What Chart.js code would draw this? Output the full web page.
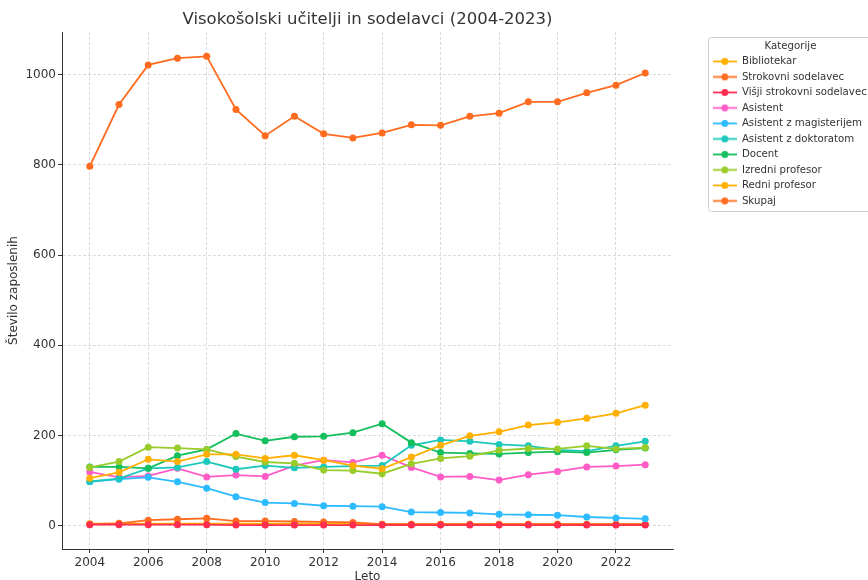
<!DOCTYPE html>
<html>
<head>
<meta charset="utf-8">
<title>Visokošolski učitelji in sodelavci</title>
<script src="https://cdn.jsdelivr.net/npm/chart.js@4"></script>
<style>
  body { margin: 0; background: #fff; }
</style>
</head>
<body>
<canvas id="chart" width="868" height="580"></canvas>
<script>
// leta in oznake osi
const years = [2004, 2005, 2006, 2007, 2008, 2009, 2010, 2011, 2012, 2013,
               2014, 2015, 2016, 2017, 2018, 2019, 2020, 2021, 2022, 2023];
const xTicks = [2004, 2006, 2008, 2010, 2012, 2014, 2016, 2018, 2020, 2022];
const yTicks = [0, 200, 400, 600, 800, 1000];

const categories = ['Bibliotekar', 'Strokovni sodelavec', 'Višji strokovni sodelavec', 'Asistent',
  'Asistent z magisterijem', 'Asistent z doktoratom', 'Docent', 'Izredni profesor', 'Redni profesor', 'Skupaj'];

// vrednosti odčitane s slike
const bibliotekar = [4, 4, 4, 4, 4, 4, 4, 4, 4, 4, 3, 3, 3, 3, 3, 3, 3, 3, 3, 3];
const strokovni   = [3, 5, 12, 14, 16, 10, 10, 9, 8, 7, 3, 3, 3, 3, 3, 3, 3, 3, 3, 3];
const visjiStrok  = [2, 2, 2, 2, 2, 1, 1, 1, 1, 1, 1, 1, 1, 1, 1, 1, 1, 1, 1, 1];
const asistent    = [119, 107, 110, 127, 108, 112, 109, 133, 145, 140, 156, 129, 108, 109, 101, 113, 120, 130, 132, 135];
const asMag       = [97, 103, 107, 97, 83, 64, 51, 49, 44, 43, 42, 30, 29, 28, 25, 24, 23, 19, 17, 15];
const asDr        = [98, 104, 127, 129, 142, 125, 133, 128, 130, 132, 133, 178, 190, 187, 180, 177, 168, 165, 177, 187];
const docent      = [130, 130, 127, 155, 169, 204, 188, 197, 198, 206, 226, 184, 162, 160, 159, 162, 164, 162, 168, 172];
const izredni     = [129, 142, 174, 172, 169, 153, 141, 138, 123, 122, 115, 137, 149, 154, 167, 171, 170, 177, 170, 173];
const redni       = [105, 118, 147, 142, 158, 158, 149, 156, 145, 133, 126, 152, 178, 199, 208, 223, 229, 238, 249, 267];
const skupaj      = [797, 934, 1022, 1037, 1041, 923, 865, 908, 869, 860, 871, 889, 888, 908, 915, 940, 940, 960, 977, 1004];

const series = [bibliotekar, strokovni, visjiStrok, asistent, asMag, asDr, docent, izredni, redni, skupaj];
const colors = ['#FFB000', '#FF6B1F', '#FF2D50', '#FF5CC8', '#2DBBFF', '#1CC8BC', '#14BF5E', '#99CC2A', '#FFB000', '#FF6B1F'];

Chart.defaults.font.family = '"DejaVu Sans", sans-serif';
Chart.defaults.color = '#333';

// znak v legendi: črta s piko
function legendMarker(color) {
  const c = document.createElement('canvas');
  c.width = 24; c.height = 9;
  const g = c.getContext('2d');
  g.strokeStyle = color; g.lineWidth = 1.8;
  g.beginPath(); g.moveTo(0, 4.5); g.lineTo(24, 4.5); g.stroke();
  g.fillStyle = color;
  g.beginPath(); g.arc(12, 4.5, 3.5, 0, Math.PI * 2); g.fill();
  return c;
}
const markers = colors.map(legendMarker);

const datasets = categories.map((name, i) => ({
  label: name,
  data: years.map((yr, j) => ({x: yr, y: series[i][j]})),
  borderColor: colors[i],
  backgroundColor: colors[i],
  pointBackgroundColor: colors[i],
  borderWidth: 1.8,
  pointRadius: 3.5,
  pointBorderWidth: 0,
  tension: 0,
  order: categories.length - i  // zadnji na vrhu
}));

// legenda zunaj grafa, z okvirjem
const legendBox = {
  id: 'legendBox',
  afterLayout(chart) {
    const lg = chart.legend;
    lg.left = 707.5; lg.width = 166; lg.right = lg.left + lg.width;
    lg.top = 40.8; lg.height = 175; lg.bottom = lg.top + lg.height;
  },
  beforeDraw(chart) {
    const ctx = chart.ctx;
    ctx.save();
    ctx.fillStyle = 'rgba(255,255,255,0.8)';
    ctx.strokeStyle = '#cccccc';
    ctx.lineWidth = 1;
    ctx.beginPath();
    ctx.roundRect(708.5, 37.5, 170, 174, 3);
    ctx.fill();
    ctx.stroke();
    ctx.restore();
  }
};

const gridOpts = {
  color: 'rgba(0,0,0,0.18)',
  tickBorderDash: [],
  tickColor: '#333',
  tickLength: 4,
  tickWidth: 1,
  lineWidth: 0.8
};
// v4: črtkanje mreže se nastavi v border.dash
const borderOpts = { color: '#333', width: 1, dash: [3, 2] };

new Chart(document.getElementById('chart'), {
  type: 'line',
  data: { datasets },
  options: {
    responsive: false,
    animation: false,
    layout: { padding: { left: 0, right: 45, top: 0, bottom: 0 } },
    plugins: {
      title: {
        display: true,
        text: 'Visokošolski učitelji in sodelavci (2004-2023)',
        font: { size: 16.5, weight: 'normal' },
        color: '#333',
        fullSize: false,
        padding: { top: 10, bottom: 2.2 }
      },
      legend: {
        position: 'right',
        align: 'start',
        maxWidth: 150,
        title: { display: true, text: 'Kategorije', color: '#333', font: { size: 10.2, lineHeight: 1 }, padding: 0 },
        labels: {
          font: { size: 10.2 },
          color: '#333',
          padding: 5.3,
          usePointStyle: true,
          pointStyleWidth: 24,
          generateLabels: chart => chart.data.datasets.map((ds, i) => ({
            text: ds.label,
            pointStyle: markers[i],
            fillStyle: ds.borderColor,
            strokeStyle: ds.borderColor,
            lineWidth: 0,
            fontColor: '#333',
            hidden: false,
            datasetIndex: i
          }))
        }
      },
      tooltip: { enabled: false }
    },
    scales: {
      x: {
        type: 'linear',
        min: 2003.05,
        max: 2023.95,
        afterBuildTicks: s => { s.ticks = xTicks.map(v => ({value: v})); },
        afterFit: s => { s.height = 31; },
        ticks: { font: { size: 12 }, color: '#333', padding: 3, maxRotation: 0, callback: v => String(v) },
        grid: gridOpts,
        border: borderOpts,
        title: { display: true, text: 'Leto', color: '#333', font: { size: 12, lineHeight: 0.5 }, padding: 0 }
      },
      y: {
        min: -52,
        max: 1095,
        afterBuildTicks: s => { s.ticks = yTicks.map(v => ({value: v})); },
        afterFit: s => { s.width = 62; },
        ticks: { font: { size: 12 }, color: '#333', padding: 2, callback: v => String(v) },
        grid: gridOpts,
        border: borderOpts,
        title: { display: true, text: 'Število zaposlenih', color: '#333', font: { size: 12 }, padding: { top: 7, bottom: 0 } }
      }
    }
  },
  plugins: [legendBox]
});
</script>
</body>
</html>
